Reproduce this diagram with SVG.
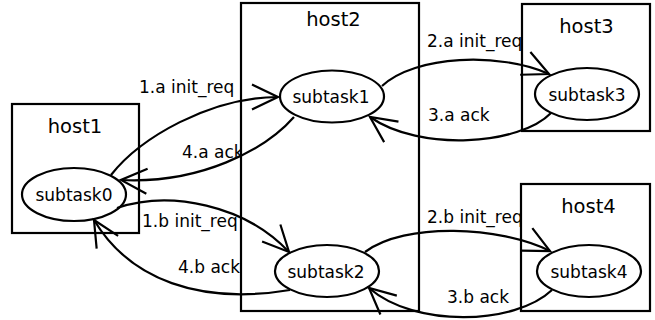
<svg xmlns="http://www.w3.org/2000/svg" width="655" height="320" viewBox="0 0 655 320">
<style>
.box{fill:#fff;stroke:#000;stroke-width:2.2}
.task{fill:#fff;stroke:#000;stroke-width:2.2}
.host{font-family:"DejaVu Sans",sans-serif;font-size:19.5px;text-anchor:middle;fill:#000}
.tl{font-family:"DejaVu Sans",sans-serif;font-size:17px;text-anchor:middle;fill:#000}
.lbl{font-family:"DejaVu Sans",sans-serif;font-size:17px;fill:#000}
.edge{fill:none;stroke:#000;stroke-width:2.2;marker-end:url(#arr)}
</style>
<defs>
<marker id="arr" markerUnits="userSpaceOnUse" orient="auto" markerWidth="40" markerHeight="40" viewBox="-32 -20 40 40" refX="0" refY="0" overflow="visible">
<path d="M-26,-12.5 L0,0 L-26,12.5" fill="none" stroke="#000" stroke-width="2.2"/>
</marker>
</defs>
<rect width="655" height="320" fill="#fff"/>
<g id="edge-labels">
<text class="lbl" x="139" y="93">1.a init_req</text>
<text class="lbl" x="182" y="158">4.a ack</text>
<text class="lbl" x="142" y="227">1.b init_req</text>
<text class="lbl" x="178" y="273">4.b ack</text>
<text class="lbl" x="427" y="47">2.a init_req</text>
<text class="lbl" x="428" y="121">3.a ack</text>
<text class="lbl" x="427" y="223">2.b init_req</text>
<text class="lbl" x="447" y="303">3.b ack</text>
</g>
<g id="host1">
<rect class="box" x="12" y="104" width="127" height="129"/>
<text class="host" x="75" y="133">host1</text>
<ellipse class="task" cx="74" cy="194.5" rx="52" ry="26.5"/>
<text class="tl" x="74" y="201">subtask0</text>
</g>
<g id="host2">
<rect class="box" x="241" y="3" width="178" height="308"/>
<text class="host" x="333.5" y="26">host2</text>
<ellipse class="task" cx="332" cy="96.5" rx="52" ry="26"/>
<text class="tl" x="331" y="103">subtask1</text>
<ellipse class="task" cx="327" cy="271" rx="52" ry="26"/>
<text class="tl" x="326" y="278">subtask2</text>
</g>
<g id="host3">
<rect class="box" x="522" y="4" width="128" height="127"/>
<text class="host" x="586.5" y="33">host3</text>
<ellipse class="task" cx="587" cy="94" rx="52" ry="26"/>
<text class="tl" x="587" y="101">subtask3</text>
</g>
<g id="host4">
<rect class="box" x="521" y="184" width="129" height="127"/>
<text class="host" x="588.5" y="213">host4</text>
<ellipse class="task" cx="589" cy="271" rx="52" ry="26"/>
<text class="tl" x="589" y="278">subtask4</text>
</g>
<g id="connectors">
<path class="edge" d="M111,175 C140,138 210,97 278,97"/>
<path class="edge" d="M294,117 C265,150 200,184 121,180"/>
<path class="edge" d="M117,208 C170,190 245,205 289,252"/>
<path class="edge" d="M290,290 C200,305 130,280 94,220"/>
<path class="edge" d="M382,86 C415,55 500,52 549,74"/>
<path class="edge" d="M551,113 C520,145 420,152 370,117"/>
<path class="edge" d="M365,252 C405,222 500,226 550,251"/>
<path class="edge" d="M552,290 C515,325 415,328 369,288"/>
</g>
</svg>
